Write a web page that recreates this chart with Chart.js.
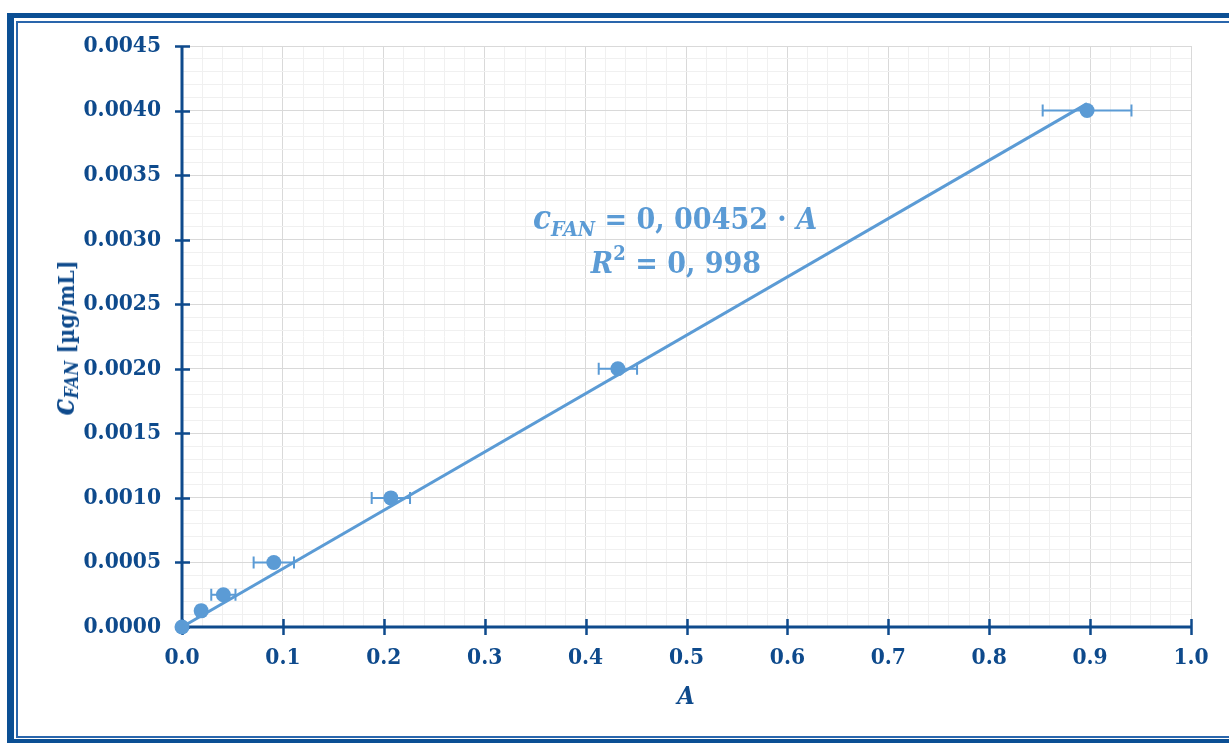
<!DOCTYPE html>
<html>
<head>
<meta charset="utf-8">
<script src="https://cdn.jsdelivr.net/npm/chart.js@4.4.1/dist/chart.umd.min.js"></script>
<style>
  body { margin: 0; background: #fff; width: 1229px; height: 743px; overflow: hidden; position: relative; }
  #frameOuter { position: absolute; left: 7px; top: 13px; width: 1300px; height: 730px; box-sizing: border-box;
    border: solid #0B4F94; border-width: 5px 0 4px 7px; }
  #frameInner { position: absolute; left: 16px; top: 21px; width: 1300px; height: 717px; box-sizing: border-box;
    border: 2px solid #2A66AC; border-right: none; }
  #chart { position: absolute; left: 0; top: 0; }
  .lbl { position: absolute; color: #0E4A8C; font-family: "DejaVu Serif Condensed", "DejaVu Serif", serif; font-weight: bold; white-space: nowrap; }
  .eq { position: absolute; color: #5B9BD5; font-family: "DejaVu Serif Condensed", "DejaVu Serif", serif; font-weight: bold; white-space: nowrap; transform: translate(-50%, -50%); }
  i { font-style: italic; }
</style>
</head>
<body>
<div id="frameOuter"></div>
<div id="frameInner"></div>
<canvas id="chart" width="1229" height="743"></canvas>

<div class="lbl" id="ytitle" style="left:63px; top:338px; transform: translate(-50%, -50%) rotate(-90deg); font-size:23px;">
  <i style="font-size:31px;">c</i><i style="font-size:18px; position:relative; top:4px;">FAN</i> [µg/mL]
</div>
<div class="lbl" style="left:686px; top:695px; transform: translate(-50%, -50%); font-size:25px;"><i>A</i></div>

<div class="eq" style="left:675px; top:217px; font-size:30px;">
  <i style="font-size:33px;">c</i><i style="font-size:21px; position:relative; top:7px;">FAN</i> = 0, 00452 · <i>A</i>
</div>
<div class="eq" style="left:676px; top:261px; font-size:30px;">
  <i>R</i><sup style="font-size:20px; position:relative; top:-2px;">2</sup> = 0, 998
</div>

<script>
// absorbance vs FAN concentration
const absorbance = [0, 0.019, 0.041, 0.091, 0.207, 0.432, 0.897];
const concentration = [0, 0.000125, 0.00025, 0.0005, 0.001, 0.002, 0.004];
const absError = [0, 0.004, 0.012, 0.02, 0.019, 0.019, 0.044];

// linear trend line c = 0.00452 * A
const trendA = [0, 0.897];
const trendC = [0, 0.004054];

const seriesColor = "#5B9BD5";
const axisColor = "#0E4A8C";
const tickFont = { family: "'DejaVu Serif Condensed', 'DejaVu Serif', serif", size: 22.5, weight: "bold" };

function isMajor(v, step) {
  const k = v / step;
  return Math.abs(k - Math.round(k)) < 1e-6;
}

// axis lines, crossing tick marks and horizontal error bars
const axisPlugin = {
  id: "axisPlugin",
  beforeDatasetsDraw(chart) {
    const ctx = chart.ctx;
    const x = chart.scales.x;
    const y = chart.scales.y;
    ctx.save();

    ctx.strokeStyle = seriesColor;
    ctx.lineWidth = 2;
    for (let i = 0; i < absorbance.length; i++) {
      if (!absError[i]) continue;
      const py = y.getPixelForValue(concentration[i]);
      const x1 = x.getPixelForValue(absorbance[i] - absError[i]);
      const x2 = x.getPixelForValue(absorbance[i] + absError[i]);
      ctx.beginPath();
      ctx.moveTo(x1, py); ctx.lineTo(x2, py);
      ctx.moveTo(x1, py - 6); ctx.lineTo(x1, py + 6);
      ctx.moveTo(x2, py - 6); ctx.lineTo(x2, py + 6);
      ctx.stroke();
    }

    ctx.strokeStyle = axisColor;
    ctx.lineWidth = 3;
    ctx.beginPath();
    ctx.moveTo(x.left, y.top); ctx.lineTo(x.left, y.bottom);
    ctx.moveTo(x.left, y.bottom); ctx.lineTo(x.right, y.bottom);
    ctx.stroke();

    ctx.lineWidth = 2.5;
    ctx.beginPath();
    y.ticks.forEach(t => {
      if (!isMajor(t.value, 0.0005)) return;
      const py = Math.round(y.getPixelForValue(t.value)) + 0.5;
      ctx.moveTo(x.left - 7, py); ctx.lineTo(x.left + 8, py);
    });
    x.ticks.forEach(t => {
      if (!isMajor(t.value, 0.1)) return;
      const px = Math.round(x.getPixelForValue(t.value)) + 0.5;
      ctx.moveTo(px, y.bottom - 8); ctx.lineTo(px, y.bottom + 8);
    });
    ctx.stroke();
    ctx.restore();
  }
};

new Chart(document.getElementById("chart"), {
  type: "scatter",
  data: {
    datasets: [
      {
        label: "trend",
        type: "line",
        data: trendA.map((a, i) => ({ x: a, y: trendC[i] })),
        borderColor: seriesColor,
        borderWidth: 3,
        pointRadius: 0,
        fill: false,
        clip: false,
        order: 0
      },
      {
        label: "calibration",
        data: absorbance.map((a, i) => ({ x: a, y: concentration[i] })),
        backgroundColor: seriesColor,
        borderColor: seriesColor,
        pointRadius: 7.5,
        pointBorderWidth: 0,
        clip: false,
        order: 1
      }
    ]
  },
  options: {
    responsive: false,
    animation: false,
    devicePixelRatio: 1,
    layout: { padding: { left: 0, top: 46, right: 38, bottom: 0 } },
    plugins: { legend: { display: false }, tooltip: { enabled: false } },
    scales: {
      x: {
        type: "linear",
        min: 0,
        max: 1,
        afterFit: s => { s.height = 116; },
        border: { display: false },
        grid: {
          drawTicks: false,
          lineWidth: 1,
          color: c => isMajor(c.tick.value, 0.1) ? "#D9D9D9" : "#F0F0F0"
        },
        ticks: {
          stepSize: 0.02,
          autoSkip: false,
          maxRotation: 0,
          padding: 18,
          color: axisColor,
          font: tickFont,
          callback: v => isMajor(v, 0.1) ? v.toFixed(1) : ""
        }
      },
      y: {
        min: 0,
        max: 0.0045,
        afterFit: s => { s.width = 182; },
        border: { display: false },
        grid: {
          drawTicks: false,
          lineWidth: 1,
          color: c => isMajor(c.tick.value, 0.0005) ? "#D9D9D9" : "#F0F0F0"
        },
        ticks: {
          stepSize: 0.0001,
          autoSkip: false,
          padding: 21,
          color: axisColor,
          font: tickFont,
          callback: v => isMajor(v, 0.0005) ? v.toFixed(4) : ""
        }
      }
    }
  },
  plugins: [axisPlugin]
});
</script>
</body>
</html>
